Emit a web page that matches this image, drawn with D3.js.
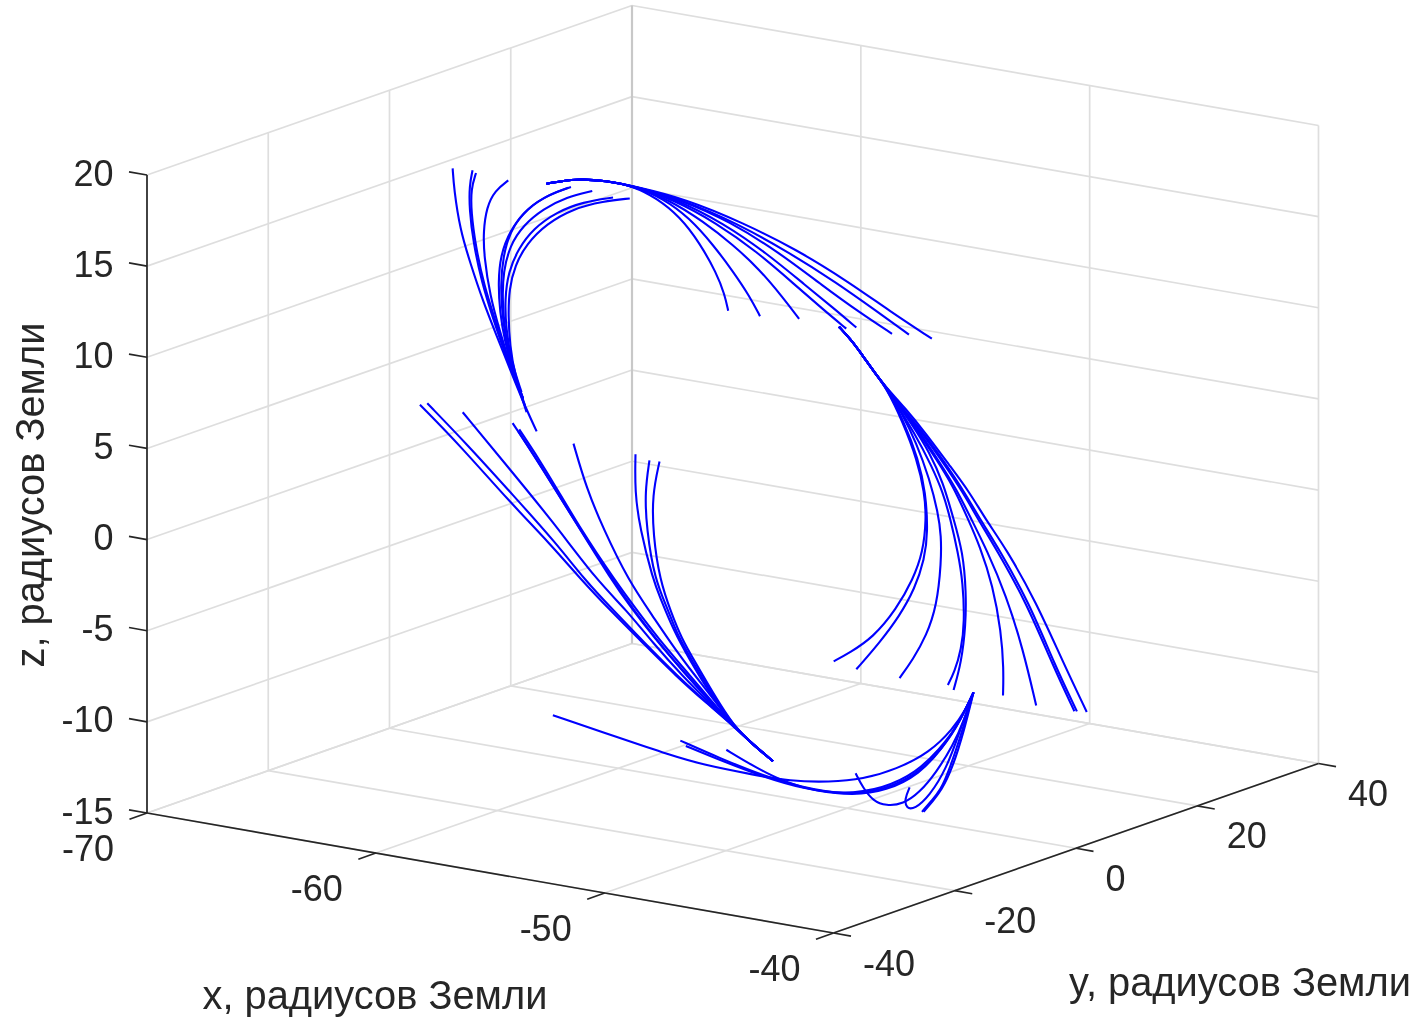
<!DOCTYPE html>
<html><head><meta charset="utf-8">
<script src="https://cdn.jsdelivr.net/npm/d3@7/dist/d3.min.js"></script>
<style>html,body{margin:0;background:#fff}svg{display:block;filter:blur(0.45px)}text{font-family:"Liberation Sans",Arial,sans-serif;fill:#262626}</style>
</head><body><svg id="c" width="1420" height="1017"></svg>
<script>
const xTicks=[-70,-60,-50,-40], yTicks=[-40,-20,0,20,40], zTicks=[-15,-10,-5,0,5,10,15,20];
const xTitle="x, радиусов Земли", yTitle="y, радиусов Земли", zTitle="z, радиусов Земли";
const lineY=0; // field lines are read off a single projection; depth is not recoverable

// each curve: [x, z] in Earth radii
const upperLeft=[
[[-67.24,16.32],[-67.18,15.20],[-66.92,13.06],[-66.48,11.33],[-65.90,9.27],[-65.32,7.57],[-64.74,5.87],[-64.16,4.17],[-63.57,2.70]],
[[-66.37,16.41],[-66.51,15.53],[-66.51,14.25],[-66.34,12.46],[-65.97,10.35],[-65.47,8.45],[-64.88,6.39],[-64.30,4.69]],
[[-66.22,16.29],[-66.44,15.37],[-66.43,14.09],[-66.24,12.30],[-65.87,10.19],[-65.35,8.30],[-64.81,6.22],[-64.16,4.36]],
[[-64.81,16.19],[-65.39,15.51],[-65.76,14.51],[-65.90,13.11],[-65.87,11.84],[-65.61,9.70],[-65.17,7.79],[-64.67,5.89],[-64.16,4.36]],
[[-62.07,16.43],[-62.99,15.86],[-64.01,14.81],[-64.74,13.46],[-65.15,12.00],[-65.25,10.51],[-65.18,8.88],[-64.96,7.29],[-64.59,5.72],[-64.01,3.66]],
[[-62.19,16.37],[-63.28,15.61],[-64.16,14.60],[-64.74,13.37],[-65.03,12.02],[-65.15,10.35],[-65.07,8.72],[-64.88,7.12],[-64.45,5.21]],
[[-61.14,16.42],[-62.26,15.84],[-63.28,14.97],[-64.16,13.87],[-64.74,12.64],[-65.03,11.11],[-65.07,9.64],[-64.96,7.84],[-64.67,6.07],[-64.16,4.36]],
[[-60.23,16.26],[-61.54,15.73],[-62.70,14.92],[-63.72,13.78],[-64.37,12.54],[-64.81,11.16],[-64.96,9.66],[-64.91,8.03],[-64.67,6.25],[-64.23,4.71]],
[[-59.50,16.37],[-60.66,15.96],[-61.97,15.27],[-63.14,14.18],[-64.01,12.89],[-64.52,11.59],[-64.77,10.25],[-64.81,8.78],[-64.74,7.15],[-64.52,5.56],[-64.08,4.01]]
];
const topStart=[[-63.14,16.38],[-61.83,16.95],[-60.52,17.11],[-59.35,17.08]];
const topArcs=[
[[-58.33,16.64],[-57.32,15.86],[-56.44,14.59],[-55.71,13.11],[-55.35,12.00],[-55.20,11.15]],
[[-58.04,16.70],[-56.88,15.86],[-55.86,14.63],[-54.99,13.36],[-54.26,12.15],[-53.81,11.16]],
[[-57.75,16.67],[-56.30,15.81],[-54.99,14.82],[-53.82,13.71],[-52.80,12.39],[-52.10,11.39]],
[[-57.61,16.74],[-55.71,15.85],[-53.97,14.69],[-52.22,13.16],[-51.06,12.14],[-50.04,11.30]],
[[-57.46,16.78],[-55.42,15.91],[-53.53,14.69],[-51.78,13.25],[-50.62,12.33],[-49.60,11.46]],
[[-57.32,16.81],[-55.13,16.07],[-52.95,14.82],[-51.06,13.42],[-49.45,12.31],[-48.04,11.46]],
[[-57.17,16.80],[-54.84,16.04],[-52.51,14.92],[-50.47,13.73],[-48.73,12.56],[-47.30,11.58]],
[[-57.02,16.87],[-54.55,16.11],[-52.22,15.17],[-49.89,13.86],[-48.15,12.69],[-46.30,11.57]]
];
const rightStart=[[-50.36,11.34],[-49.82,10.73],[-49.31,9.96],[-48.80,9.16],[-48.29,8.45]];
const rightArcs=[
[[-47.56,6.70],[-46.95,4.82],[-46.62,3.07],[-46.54,1.62],[-46.69,-0.24],[-47.12,-1.80],[-47.85,-3.61],[-48.87,-5.39],[-49.89,-6.44],[-50.59,-7.07]],
[[-47.53,6.80],[-46.89,4.84],[-46.57,3.08],[-46.47,0.91],[-46.62,-0.59],[-47.05,-2.33],[-47.71,-3.94],[-48.58,-5.60],[-49.60,-7.29]],
[[-47.63,7.23],[-46.98,5.73],[-46.40,3.85],[-46.03,2.10],[-45.89,0.85],[-45.89,-0.61],[-46.08,-3.03],[-46.54,-4.78],[-47.12,-6.19],[-47.71,-7.36]],
[[-46.98,6.10],[-46.32,4.60],[-45.81,3.25],[-45.49,1.86],[-45.16,0.10],[-44.94,-1.50],[-44.87,-3.67],[-45.01,-5.17],[-45.31,-6.51],[-45.60,-7.27]],
[[-47.12,6.61],[-46.40,5.31],[-45.81,3.80],[-45.35,1.89],[-44.94,0.15],[-44.80,-2.01],[-44.82,-3.85],[-45.01,-5.90],[-45.35,-7.49]],
[[-46.98,6.46],[-46.11,5.01],[-45.38,3.71],[-44.72,2.03],[-44.21,0.68],[-43.63,-1.39],[-43.27,-3.86],[-43.16,-5.85],[-43.19,-7.32]],
[[-46.91,6.48],[-45.96,4.86],[-45.23,3.56],[-44.58,2.06],[-43.92,0.56],[-43.05,-1.80],[-42.32,-4.57],[-41.74,-7.55]],
[[-47.56,7.43],[-46.69,6.25],[-45.81,4.89],[-44.94,3.44],[-44.29,2.13],[-43.49,0.66],[-42.18,-1.97],[-41.01,-5.19],[-40.07,-7.50]],
[[-47.56,7.43],[-46.62,6.27],[-45.74,4.91],[-44.87,3.46],[-44.20,2.14],[-43.37,0.68],[-42.06,-1.95],[-40.92,-5.17],[-39.96,-7.48]],
[[-47.49,7.54],[-46.54,6.29],[-45.52,4.78],[-44.65,3.51],[-43.97,2.20],[-43.05,0.76],[-41.74,-1.88],[-40.57,-4.91],[-39.53,-7.42]]
];
const lowerTail=[[-54.95,-11.60],[-54.11,-12.41],[-53.24,-13.13]];
const lowerLeft=[
[[-68.67,3.04],[-66.92,1.19],[-64.74,-1.44],[-62.99,-3.33],[-61.61,-5.03],[-60.37,-6.40],[-58.91,-7.91],[-57.46,-9.41],[-56.15,-10.58]],
[[-68.35,3.19],[-66.63,1.34],[-64.59,-1.04],[-62.70,-3.27],[-61.46,-5.00],[-60.23,-6.37],[-58.84,-7.89],[-57.39,-9.40],[-56.11,-10.57]],
[[-66.80,3.04],[-64.88,0.54],[-62.85,-2.11],[-60.95,-4.89],[-59.64,-6.24],[-58.48,-7.81],[-57.17,-9.35],[-56.01,-10.55]],
[[-64.62,2.92],[-63.57,1.20],[-61.83,-1.98],[-60.30,-4.74],[-59.42,-6.10],[-58.41,-7.52],[-57.17,-9.07],[-55.93,-10.53]],
[[-64.33,2.64],[-63.28,0.90],[-61.54,-2.46],[-60.15,-4.71],[-59.20,-6.14],[-58.26,-7.49],[-57.02,-9.04],[-55.86,-10.52]],
[[-64.37,2.52],[-63.36,0.79],[-61.61,-2.38],[-60.23,-4.73],[-59.32,-6.17],[-58.33,-7.59],[-57.10,-9.15],[-55.89,-10.52]],
[[-61.96,2.38],[-61.39,0.04],[-60.66,-1.99],[-59.57,-4.58],[-58.48,-6.35],[-57.60,-7.80],[-56.73,-9.07],[-55.71,-10.48]],
[[-59.25,2.39],[-59.28,0.33],[-59.06,-1.63],[-58.48,-4.34],[-58.19,-5.18],[-57.60,-6.88],[-56.88,-8.37],[-56.01,-10.00]],
[[-58.64,2.19],[-58.84,0.43],[-58.77,-1.57],[-58.41,-4.32],[-57.82,-5.84],[-57.46,-7.03],[-56.80,-8.35],[-55.93,-9.98]],
[[-58.20,2.22],[-58.52,0.32],[-58.48,-1.87],[-58.19,-4.27],[-57.68,-5.99],[-57.24,-7.26],[-56.66,-8.41],[-55.86,-9.97]]
];
const bottomEnd=[-44.48,-7.43];
const bottomArcs=[
[[-62.86,-12.72],[-59.94,-13.33],[-57.75,-13.78],[-56.30,-14.00],[-54.11,-14.06],[-52.51,-14.07],[-50.76,-13.73],[-49.31,-13.26],[-47.85,-12.39],[-46.40,-11.15],[-45.38,-9.64],[-44.80,-8.41]],
[[-57.29,-12.89],[-55.57,-13.47],[-53.68,-14.02],[-51.93,-14.30],[-50.18,-14.28],[-48.73,-13.81],[-47.27,-12.81],[-46.11,-11.27],[-45.23,-9.61]],
[[-57.05,-13.13],[-55.42,-13.62],[-53.53,-14.11],[-51.93,-14.34],[-50.18,-14.28],[-48.43,-13.58],[-46.98,-12.38],[-45.96,-10.87],[-45.16,-9.41]],
[[-55.28,-12.95],[-53.97,-13.66],[-52.66,-14.19],[-51.35,-14.36],[-49.74,-14.24],[-48.29,-13.67],[-46.83,-12.44],[-45.82,-10.75],[-45.09,-9.21]],
[[-49.63,-13.00],[-49.31,-13.72],[-48.87,-14.35],[-48.29,-14.50],[-47.56,-14.24],[-46.83,-13.44],[-46.11,-12.18],[-45.38,-10.56],[-44.87,-8.98]],
[[-47.27,-13.26],[-47.49,-13.95],[-47.42,-14.45],[-47.05,-14.40],[-46.40,-13.53],[-45.67,-11.90],[-45.09,-9.76]],
[[-46.73,-14.48],[-46.32,-13.78],[-45.93,-13.15],[-45.52,-11.87],[-44.94,-9.54]],
[[-46.66,-14.46],[-46.25,-13.77],[-45.89,-13.14],[-45.41,-11.84],[-44.87,-9.53]]
];

const curves=[
 ...upperLeft,
 ...topArcs.map(c=>[...topStart,...c]),
 ...rightArcs.map(c=>[...rightStart,...c]),
 ...lowerLeft.map(c=>[...c,...lowerTail]),
 ...bottomArcs.map(c=>[...c,bottomEnd])
];

// oblique projection of the MATLAB-style 3-D box
const sx=d3.scaleLinear().domain([-70,-40]);
const sy=d3.scaleLinear().domain([-40,40]);
const sz=d3.scaleLinear().domain([-15,20]);
const O={x:147,y:813}, VX={x:686.5,y:120}, VY={x:485,y:-169.5}, VZ={x:0,y:-638};
const P=(x,y,z)=>[O.x+sx(x)*VX.x+sy(y)*VY.x+sz(z)*VZ.x, O.y+sx(x)*VX.y+sy(y)*VY.y+sz(z)*VZ.y];

const svg=d3.select("#c");
const seg=(g,a,b,col,w)=>g.append("line").attr("x1",a[0]).attr("y1",a[1]).attr("x2",b[0]).attr("y2",b[1]).attr("stroke",col).attr("stroke-width",w);

const grid=svg.append("g");
const gc="#dedede", gw=1.7;
zTicks.forEach(z=>{ seg(grid,P(-70,-40,z),P(-70,40,z),gc,gw); seg(grid,P(-70,40,z),P(-40,40,z),gc,gw); });
xTicks.forEach(x=>{ seg(grid,P(x,-40,-15),P(x,40,-15),gc,gw); seg(grid,P(x,40,-15),P(x,40,20),gc,gw); });
yTicks.forEach(y=>{ seg(grid,P(-70,y,-15),P(-40,y,-15),gc,gw); seg(grid,P(-70,y,-15),P(-70,y,20),gc,gw); });
seg(grid,P(-70,40,-15),P(-70,40,20),"#c8c8c8",2.2);

const line=d3.line().curve(d3.curveBasis).x(d=>P(d[0],lineY,d[1])[0]).y(d=>P(d[0],lineY,d[1])[1]);
svg.append("g").selectAll("path").data(curves).join("path").attr("d",line).attr("fill","none").attr("stroke","#0000ff").attr("stroke-width",2.1);

const ax=svg.append("g"), ac="#262626", aw=1.7;
seg(ax,P(-70,-40,-15),P(-70,-40,20),ac,aw);
seg(ax,P(-70,-40,-15),P(-40,-40,-15),ac,aw);
seg(ax,P(-40,-40,-15),P(-40,40,-15),ac,aw);
const add=(p,d)=>[p[0]+d[0],p[1]+d[1]];
zTicks.forEach(z=>{const p=P(-70,-40,z);seg(ax,p,add(p,[-18,-3.2]),ac,aw);});
xTicks.forEach(x=>{const p=P(x,-40,-15);seg(ax,p,add(p,[-17.5,6.2]),ac,aw);});
yTicks.forEach(y=>{const p=P(-40,y,-15);seg(ax,p,add(p,[17.5,3.1]),ac,aw);});

const FS=36, TFS=39.8;
const txt=(s,x,y,a,fs)=>svg.append("text").attr("x",x).attr("y",y).attr("text-anchor",a).attr("dominant-baseline","central").attr("font-size",fs).text(s);
zTicks.forEach(z=>{const p=P(-70,-40,z);txt(z,113.5,p[1]-2,"end",FS);});
xTicks.forEach(x=>{const p=P(x,-40,-15);txt(x,p[0]-33,p[1]+35,"end",FS);});
yTicks.forEach(y=>{const p=P(-40,y,-15);txt(y,p[0]+29.5,p[1]+30,"start",FS);});
txt(xTitle,375,994.5,"middle",TFS);
txt(yTitle,1240,981.5,"middle",TFS);
svg.append("text").attr("transform","translate(30,495) rotate(-90)").attr("text-anchor","middle").attr("dominant-baseline","central").attr("font-size",TFS).text(zTitle);
</script></body></html>
